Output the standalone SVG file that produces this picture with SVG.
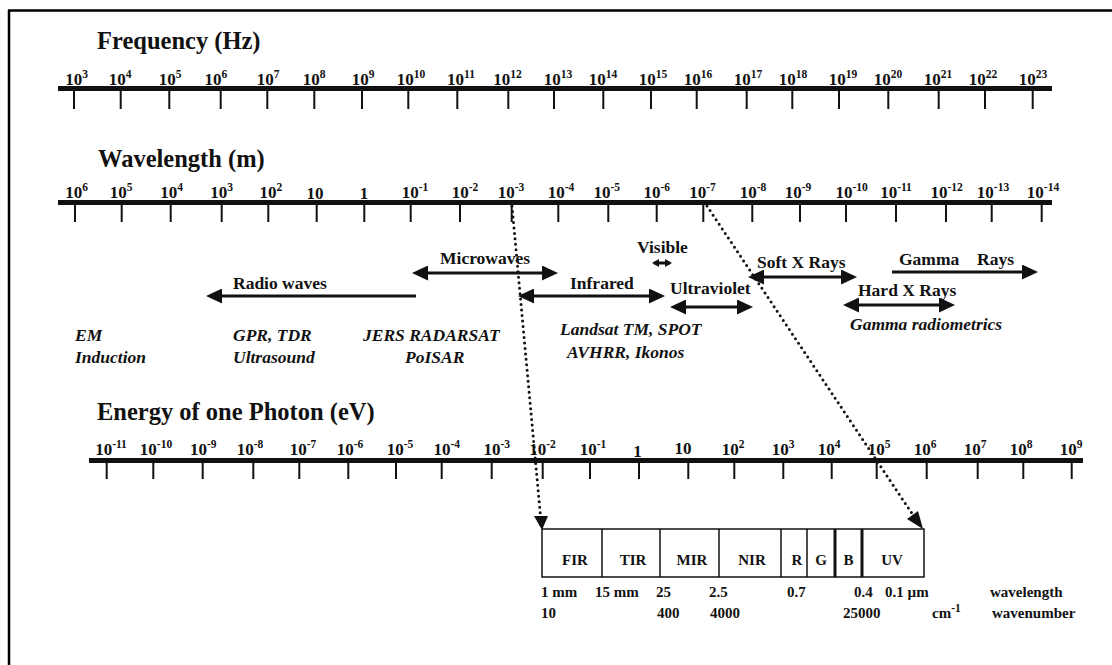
<svg xmlns="http://www.w3.org/2000/svg" width="1112" height="665" viewBox="0 0 1112 665">
<style>
text{font-family:"Liberation Serif","Times New Roman",serif;font-weight:bold;fill:#111}
.title{font-size:24.5px}
.ax{font-size:17px;text-anchor:middle}
.sup{font-size:11.5px}
.lbl{font-size:17.5px}
.it{font-size:17.5px;font-style:italic}
.box{font-size:15px;text-anchor:middle}
.bt{font-size:15px}
.bar{fill:#111}
.tick{stroke:#111;stroke-width:2}
.arr{stroke:#111;stroke-width:3;fill:none}
.dot{stroke:#111;stroke-width:3;stroke-linecap:round;stroke-dasharray:0 5.5;fill:none}
.cell{fill:#fff;stroke:#111;stroke-width:1.5}
</style>
<defs>
<marker id="ah" markerUnits="userSpaceOnUse" markerWidth="17" markerHeight="15" refX="12" refY="7.5" orient="auto-start-reverse"><path d="M0,0 L16,7.5 L0,15 z" fill="#111"/></marker>
<marker id="ahs" markerUnits="userSpaceOnUse" markerWidth="8" markerHeight="8" refX="5" refY="4" orient="auto-start-reverse"><path d="M0,0 L7,4 L0,8 z" fill="#111"/></marker>
</defs>
<rect width="1112" height="665" fill="#fff"/>
<g id="frame"><line x1="8" y1="10.5" x2="1112" y2="10.5" stroke="#000" stroke-width="2.5"/><line x1="9" y1="10" x2="9" y2="665" stroke="#000" stroke-width="2.5"/></g>

<g id="frequency-axis">
<text class="title" x="97" y="49">Frequency (Hz)</text>
<rect class="bar" x="58" y="86" width="994" height="5"/>
<path class="tick" d="M74,91V109M120.7,91V109M169.3,91V109M220.7,91V109M267.3,91V109M314.3,91V109M362,91V109M408.3,91V109M457.3,91V109M508.3,91V109M554,91V109M603.3,91V109M651,91V109M696.7,91V109M746.7,91V109M792.3,91V109M839,91V109M888.3,91V109M938.7,91V109M985,91V109M1032.7,91V109"/>
<text class="ax" x="76.7" y="85">10<tspan class="sup" dy="-7">3</tspan></text>
<text class="ax" x="120" y="85">10<tspan class="sup" dy="-7">4</tspan></text>
<text class="ax" x="170" y="85">10<tspan class="sup" dy="-7">5</tspan></text>
<text class="ax" x="215.8" y="85">10<tspan class="sup" dy="-7">6</tspan></text>
<text class="ax" x="268" y="85">10<tspan class="sup" dy="-7">7</tspan></text>
<text class="ax" x="314" y="85">10<tspan class="sup" dy="-7">8</tspan></text>
<text class="ax" x="363" y="85">10<tspan class="sup" dy="-7">9</tspan></text>
<text class="ax" x="411" y="85">10<tspan class="sup" dy="-7">10</tspan></text>
<text class="ax" x="461" y="85">10<tspan class="sup" dy="-7">11</tspan></text>
<text class="ax" x="507.5" y="85">10<tspan class="sup" dy="-7">12</tspan></text>
<text class="ax" x="558" y="85">10<tspan class="sup" dy="-7">13</tspan></text>
<text class="ax" x="603" y="85">10<tspan class="sup" dy="-7">14</tspan></text>
<text class="ax" x="653" y="85">10<tspan class="sup" dy="-7">15</tspan></text>
<text class="ax" x="698" y="85">10<tspan class="sup" dy="-7">16</tspan></text>
<text class="ax" x="748" y="85">10<tspan class="sup" dy="-7">17</tspan></text>
<text class="ax" x="793" y="85">10<tspan class="sup" dy="-7">18</tspan></text>
<text class="ax" x="843" y="85">10<tspan class="sup" dy="-7">19</tspan></text>
<text class="ax" x="888" y="85">10<tspan class="sup" dy="-7">20</tspan></text>
<text class="ax" x="938" y="85">10<tspan class="sup" dy="-7">21</tspan></text>
<text class="ax" x="983" y="85">10<tspan class="sup" dy="-7">22</tspan></text>
<text class="ax" x="1033" y="85">10<tspan class="sup" dy="-7">23</tspan></text>
</g>

<g id="wavelength-axis">
<text class="title" x="98" y="167">Wavelength (m)</text>
<rect class="bar" x="58" y="200" width="994" height="5"/>
<path class="tick" d="M75,205V222M121.7,205V222M170.7,205V222M221.7,205V222M268.3,205V222M316.7,205V222M364.3,205V222M410.7,205V222M460,205V222M511.7,205V222M558.3,205V222M608.3,205V222M656.7,205V222M703.3,205V222M752.3,205V222M800,205V222M846,205V222M896,205V222M946,205V222M991.7,205V222M1041.7,205V222"/>
<text class="ax" x="76.7" y="198">10<tspan class="sup" dy="-7">6</tspan></text>
<text class="ax" x="121" y="198">10<tspan class="sup" dy="-7">5</tspan></text>
<text class="ax" x="171.7" y="198">10<tspan class="sup" dy="-7">4</tspan></text>
<text class="ax" x="221.7" y="198">10<tspan class="sup" dy="-7">3</tspan></text>
<text class="ax" x="270.8" y="198">10<tspan class="sup" dy="-7">2</tspan></text>
<text class="ax" x="315" y="199">10</text>
<text class="ax" x="364" y="199">1</text>
<text class="ax" x="415" y="198">10<tspan class="sup" dy="-7">-1</tspan></text>
<text class="ax" x="465" y="198">10<tspan class="sup" dy="-7">-2</tspan></text>
<text class="ax" x="511" y="198">10<tspan class="sup" dy="-7">-3</tspan></text>
<text class="ax" x="561" y="198">10<tspan class="sup" dy="-7">-4</tspan></text>
<text class="ax" x="606.7" y="198">10<tspan class="sup" dy="-7">-5</tspan></text>
<text class="ax" x="656.7" y="198">10<tspan class="sup" dy="-7">-6</tspan></text>
<text class="ax" x="702.5" y="198">10<tspan class="sup" dy="-7">-7</tspan></text>
<text class="ax" x="753" y="198">10<tspan class="sup" dy="-7">-8</tspan></text>
<text class="ax" x="798" y="198">10<tspan class="sup" dy="-7">-9</tspan></text>
<text class="ax" x="851.7" y="198">10<tspan class="sup" dy="-7">-10</tspan></text>
<text class="ax" x="896" y="198">10<tspan class="sup" dy="-7">-11</tspan></text>
<text class="ax" x="946.7" y="198">10<tspan class="sup" dy="-7">-12</tspan></text>
<text class="ax" x="993" y="198">10<tspan class="sup" dy="-7">-13</tspan></text>
<text class="ax" x="1043" y="198">10<tspan class="sup" dy="-7">-14</tspan></text>
</g>

<g id="bands">
<text class="lbl" x="440" y="264">Microwaves</text>
<text class="lbl" x="233" y="289">Radio waves</text>
<text class="lbl" x="570" y="289">Infrared</text>
<text class="lbl" x="637" y="253">Visible</text>
<text class="lbl" x="670" y="294">Ultraviolet</text>
<text class="lbl" x="757" y="268">Soft X Rays</text>
<text class="lbl" x="899" y="265">Gamma</text>
<text class="lbl" x="977" y="265">Rays</text>
<text class="lbl" x="858" y="296">Hard X Rays</text>
</g>

<g id="applications">
<text class="it" x="75" y="341">EM</text>
<text class="it" x="75" y="363">Induction</text>
<text class="it" x="233" y="341">GPR, TDR</text>
<text class="it" x="233" y="363">Ultrasound</text>
<text class="it" x="363" y="341">JERS RADARSAT</text>
<text class="it" x="405" y="363">PoISAR</text>
<text class="it" x="560" y="335">Landsat TM, SPOT</text>
<text class="it" x="567" y="358">AVHRR, Ikonos</text>
<text class="it" x="850" y="330">Gamma radiometrics</text>
</g>

<g id="energy-axis">
<text class="title" x="97" y="420">Energy of one Photon (eV)</text>
<rect class="bar" x="89" y="458" width="994" height="5"/>
<path class="tick" d="M106.7,463V479M153.3,463V479M202.7,463V479M253.3,463V479M299.3,463V479M348.3,463V479M396,463V479M441.7,463V479M491.7,463V479M542.7,463V479M590,463V479M639,463V479M688.3,463V479M734.3,463V479M783.3,463V479M831.7,463V479M876.7,463V479M926.7,463V479M977.7,463V479M1023.3,463V479M1071.7,463V479"/>
<text class="ax" x="111" y="455">10<tspan class="sup" dy="-7">-11</tspan></text>
<text class="ax" x="156" y="455">10<tspan class="sup" dy="-7">-10</tspan></text>
<text class="ax" x="203.3" y="455">10<tspan class="sup" dy="-7">-9</tspan></text>
<text class="ax" x="250" y="455">10<tspan class="sup" dy="-7">-8</tspan></text>
<text class="ax" x="303" y="455">10<tspan class="sup" dy="-7">-7</tspan></text>
<text class="ax" x="350" y="455">10<tspan class="sup" dy="-7">-6</tspan></text>
<text class="ax" x="400" y="455">10<tspan class="sup" dy="-7">-5</tspan></text>
<text class="ax" x="446.7" y="455">10<tspan class="sup" dy="-7">-4</tspan></text>
<text class="ax" x="496.7" y="455">10<tspan class="sup" dy="-7">-3</tspan></text>
<text class="ax" x="542.5" y="455">10<tspan class="sup" dy="-7">-2</tspan></text>
<text class="ax" x="593" y="455">10<tspan class="sup" dy="-7">-1</tspan></text>
<text class="ax" x="637.5" y="457">1</text>
<text class="ax" x="683" y="454">10</text>
<text class="ax" x="733" y="455">10<tspan class="sup" dy="-7">2</tspan></text>
<text class="ax" x="783" y="455">10<tspan class="sup" dy="-7">3</tspan></text>
<text class="ax" x="829" y="455">10<tspan class="sup" dy="-7">4</tspan></text>
<text class="ax" x="879" y="455">10<tspan class="sup" dy="-7">5</tspan></text>
<text class="ax" x="925" y="455">10<tspan class="sup" dy="-7">6</tspan></text>
<text class="ax" x="975" y="455">10<tspan class="sup" dy="-7">7</tspan></text>
<text class="ax" x="1021" y="455">10<tspan class="sup" dy="-7">8</tspan></text>
<text class="ax" x="1071" y="455">10<tspan class="sup" dy="-7">9</tspan></text>
</g>

<g id="connectors">
<line class="arr" x1="416" y1="273" x2="554" y2="273" marker-start="url(#ah)" marker-end="url(#ah)"/>
<line class="arr" x1="416" y1="296" x2="210" y2="296" marker-end="url(#ah)"/>
<line class="arr" x1="522" y1="296" x2="661" y2="296" marker-start="url(#ah)" marker-end="url(#ah)"/>
<line class="arr" x1="654" y1="263" x2="670" y2="263" stroke-width="2" marker-start="url(#ahs)" marker-end="url(#ahs)"/>
<line class="arr" x1="674" y1="307" x2="749" y2="307" marker-start="url(#ah)" marker-end="url(#ah)"/>
<line class="arr" x1="752" y1="277" x2="853" y2="277" marker-start="url(#ah)" marker-end="url(#ah)"/>
<line class="arr" x1="892" y1="272" x2="1034" y2="272" marker-end="url(#ah)"/>
<line class="arr" x1="847" y1="305" x2="951" y2="305" marker-start="url(#ah)" marker-end="url(#ah)"/>
<line class="dot" x1="512" y1="206" x2="540.5" y2="516"/>
<path d="M534,516 L548,516 L542,530 z" fill="#111"/>
<line class="dot" x1="707" y1="206" x2="913" y2="515"/>
<path d="M907,519 L918,511 L923,529 z" fill="#111"/>
</g>

<g id="spectrum-box">
<rect class="cell" x="542" y="529" width="382" height="48"/>
<path d="M602,529V577M660,529V577M719,529V577M781,529V577M807,529V577" stroke="#111" stroke-width="1.5"/>
<path d="M835,529V577M862,529V577" stroke="#111" stroke-width="3"/>
<text class="box" x="575" y="565">FIR</text>
<text class="box" x="633" y="565">TIR</text>
<text class="box" x="692" y="565">MIR</text>
<text class="box" x="752" y="565">NIR</text>
<text class="box" x="797" y="565">R</text>
<text class="box" x="821" y="565">G</text>
<text class="box" x="848.5" y="565">B</text>
<text class="box" x="892" y="565">UV</text>
</g>

<g id="scale-labels">
<text class="bt" x="541" y="597">1 mm</text>
<text class="bt" x="595" y="597">15 mm</text>
<text class="bt" x="656" y="597">25</text>
<text class="bt" x="709" y="597">2.5</text>
<text class="bt" x="787" y="597">0.7</text>
<text class="bt" x="854" y="597">0.4</text>
<text class="bt" x="885" y="597">0.1 µm</text>
<text class="bt" x="990" y="597">wavelength</text>
<text class="bt" x="541" y="618">10</text>
<text class="bt" x="657" y="618">400</text>
<text class="bt" x="710" y="618">4000</text>
<text class="bt" x="843" y="618">25000</text>
<text class="bt" x="932" y="618">cm<tspan class="sup" font-size="9" dy="-6">-1</tspan></text>
<text class="bt" x="992" y="618">wavenumber</text>
</g>
</svg>
